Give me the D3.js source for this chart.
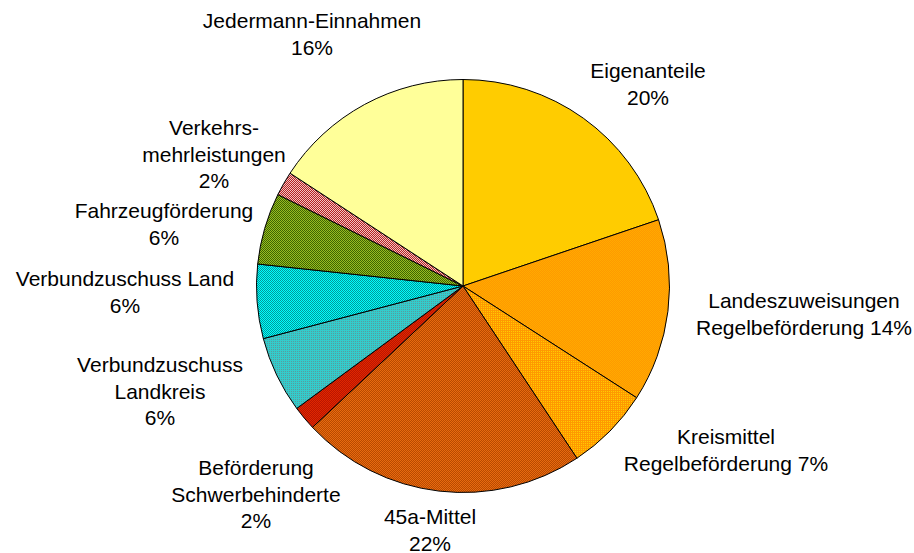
<!DOCTYPE html>
<html>
<head>
<meta charset="utf-8">
<script src="https://cdn.jsdelivr.net/npm/d3@7"></script>
<style>
  html, body { margin: 0; padding: 0; background: #ffffff; }
  svg { display: block; }
  text { font-family: "Liberation Sans", Arial, sans-serif; font-size: 21px; fill: #000; }
</style>
</head>
<body>
<svg id="chart" width="914" height="553"></svg>
<script>
// ---- data ----
const categories = [
  "Eigenanteile",
  "Landeszuweisungen Regelbeförderung",
  "Kreismittel Regelbeförderung",
  "45a-Mittel",
  "Beförderung Schwerbehinderte",
  "Verbundzuschuss Landkreis",
  "Verbundzuschuss Land",
  "Fahrzeugförderung",
  "Verkehrsmehrleistungen",
  "Jedermann-Einnahmen"
];
const values = [19.8, 14.3, 6.6, 22.3, 1.9, 6.0, 5.8, 5.6, 1.9, 15.8];

// label text lines (percentage appended from data)
const labelLines = [
  ["Eigenanteile", "{p}"],
  ["Landeszuweisungen", "Regelbeförderung {p}"],
  ["Kreismittel", "Regelbeförderung {p}"],
  ["45a-Mittel", "{p}"],
  ["Beförderung", "Schwerbehinderte", "{p}"],
  ["Verbundzuschuss", "Landkreis", "{p}"],
  ["Verbundzuschuss Land", "{p}"],
  ["Fahrzeugförderung", "{p}"],
  ["Verkehrs-", "mehrleistungen", "{p}"],
  ["Jedermann-Einnahmen", "{p}"]
];

// ---- layout ----
const W = 914, H = 553;
const cx = 463, cy = 286, R = 206.5;
const lineH = 26.5;
// label centres (x, y of first line centre)
const labelPos = [
  [648, 70], [804, 300], [726, 436], [430, 516], [256, 467],
  [160, 364], [125, 278], [164, 210], [214, 127], [312, 20]
];

// fills: 2x2 pixel dither patterns
const fills = [
  {type: "solid", c: "#FFCC00"},
  {type: "checker", c1: "#FF9900", c2: "#FFAA00"},
  {type: "grid", c1: "#FF9900", c2: "#FFCC00"},
  {type: "checker", c1: "#B84A00", c2: "#E86A10"},
  {type: "checker", c1: "#BB1500", c2: "#E02800"},
  {type: "grid", c1: "#33CCCC", c2: "#5A9C9C"},
  {type: "checker", c1: "#00FFFF", c2: "#009999"},
  {type: "checker", c1: "#99BB22", c2: "#3D6600"},
  {type: "checker", c1: "#B22222", c2: "#F5C0C0"},
  {type: "solid", c: "#FFFF99"}
];

const svg = d3.select("#chart");
const defs = svg.append("defs");

fills.forEach((f, i) => {
  if (f.type === "solid") return;
  const p = defs.append("pattern")
    .attr("id", "pat" + i)
    .attr("patternUnits", "userSpaceOnUse")
    .attr("width", 2).attr("height", 2);
  if (f.type === "checker") {
    p.append("rect").attr("width", 2).attr("height", 2).attr("fill", f.c1);
    p.append("rect").attr("x", 1).attr("y", 0).attr("width", 1).attr("height", 1).attr("fill", f.c2);
    p.append("rect").attr("x", 0).attr("y", 1).attr("width", 1).attr("height", 1).attr("fill", f.c2);
  } else {
    p.append("rect").attr("width", 2).attr("height", 2).attr("fill", f.c2);
    p.append("rect").attr("x", 0).attr("y", 0).attr("width", 1).attr("height", 1).attr("fill", f.c1);
    p.append("rect").attr("x", 1).attr("y", 1).attr("width", 1).attr("height", 1).attr("fill", f.c1);
    p.append("rect").attr("x", 1).attr("y", 0).attr("width", 1).attr("height", 1).attr("fill", f.c1);
  }
});

const fillOf = i => fills[i].type === "solid" ? fills[i].c : "url(#pat" + i + ")";

const total = d3.sum(values);
const pie = d3.pie().sort(null).value(d => d)(values);
const arc = d3.arc().innerRadius(0).outerRadius(R);

const g = svg.append("g").attr("transform", `translate(${cx},${cy})`);
g.selectAll("path.slice")
  .data(pie)
  .join("path")
  .attr("class", "slice")
  .attr("d", arc)
  .attr("fill", (d, i) => fillOf(i))
  .attr("stroke", "#000")
  .attr("stroke-width", 1)
  .attr("stroke-linejoin", "round");

// labels
const fmt = v => Math.round(v / total * 100) + "%";
const labels = svg.append("g");
categories.forEach((c, i) => {
  const t = labels.append("text")
    .attr("text-anchor", "middle")
    .attr("dominant-baseline", "central");
  labelLines[i].forEach((ln, j) => {
    t.append("tspan")
      .attr("x", labelPos[i][0])
      .attr("y", labelPos[i][1] + j * lineH)
      .text(ln.replace("{p}", fmt(values[i])));
  });
});
</script>
</body>
</html>
